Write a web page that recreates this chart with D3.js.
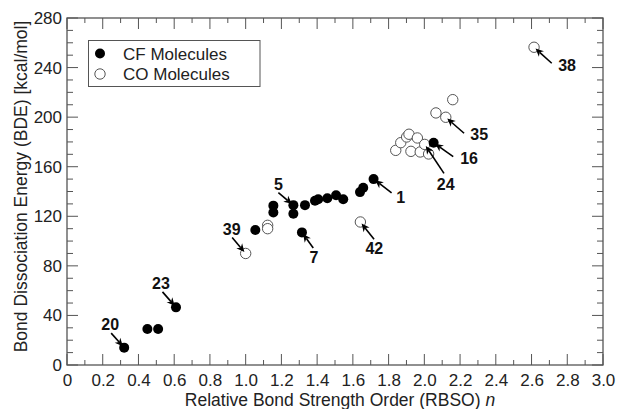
<!DOCTYPE html>
<html><head><meta charset="utf-8">
<script src="https://cdn.jsdelivr.net/npm/d3@7"></script>
<style>
html,body{margin:0;padding:0;background:#fff;}
svg{display:block;font-family:"Liberation Sans",Arial,Helvetica,sans-serif;}
</style></head>
<body>
<script>
// ---- data ----
const cfN   = [0.32, 0.45, 0.51, 0.61, 1.054, 1.155, 1.155, 1.267, 1.267, 1.315, 1.332, 1.388, 1.406, 1.457, 1.506, 1.546, 1.640, 1.658, 1.716, 2.052];
const cfBDE = [14, 29, 29, 46.5, 109, 128.6, 123, 129, 122, 107, 129, 132.6, 133.7, 134.5, 137, 133.7, 139.5, 143, 150, 179.4];
const coN   = [1.000, 1.123, 1.123, 1.642, 1.840, 1.868, 1.901, 1.914, 1.961, 1.925, 1.977, 2.002, 2.024, 2.065, 2.120, 2.159, 2.614];
const coBDE = [90, 112.7, 110, 115.4, 173.2, 179.4, 184, 186.2, 183.2, 172.4, 171.9, 178, 170.3, 203.4, 199.9, 214.1, 256.4];
const annLabels = ["20", "23", "39", "5", "7", "42", "1", "24", "16", "35", "38"];
const annN      = [0.32, 0.61, 1.000, 1.267, 1.315, 1.642, 1.716, 2.002, 2.052, 2.120, 2.614];
const annBDE    = [14, 46.5, 90, 129, 107, 115.4, 150, 178, 179.4, 199.9, 256.4];
const xTickVals = [0, 0.2, 0.4, 0.6, 0.8, 1.0, 1.2, 1.4, 1.6, 1.8, 2.0, 2.2, 2.4, 2.6, 2.8, 3.0];
const xTickLabels = ["0", "0.2", "0.4", "0.6", "0.8", "1.0", "1.2", "1.4", "1.6", "1.8", "2.0", "2.2", "2.4", "2.6", "2.8", "3.0"];
const yTickVals = [0, 40, 80, 120, 160, 200, 240, 280];
const legendLabels = ["CF Molecules", "CO Molecules"];

// ---- layout ----
const W = 617, H = 409;
const L = 67, R = 603, T = 18, B = 365;
const svg = d3.select("body").append("svg").attr("width", W).attr("height", H);
const x = d3.scaleLinear().domain([0, 3]).range([L, R]);
const y = d3.scaleLinear().domain([0, 280]).range([B, T]);
const axisCol = "#555";

// minor ticks
const xMinor = d3.range(0, 31).map(i => i / 10);
const yMinor = d3.range(0, 29).map(i => i * 10);
const isMajX = v => Math.abs(v * 5 - Math.round(v * 5)) < 1e-6;
const isMajY = v => v % 40 === 0;

const tk = svg.append("g").attr("stroke", axisCol).attr("stroke-width", 1);
xMinor.forEach(v => {
  const len = isMajX(v) ? 11 : 5;
  tk.append("line").attr("x1", x(v)).attr("x2", x(v)).attr("y1", B).attr("y2", B - len);
  tk.append("line").attr("x1", x(v)).attr("x2", x(v)).attr("y1", T).attr("y2", T + len);
});
yMinor.forEach(v => {
  const len = isMajY(v) ? 11 : 6;
  tk.append("line").attr("y1", y(v)).attr("y2", y(v)).attr("x1", L).attr("x2", L + len);
  tk.append("line").attr("y1", y(v)).attr("y2", y(v)).attr("x1", R).attr("x2", R - len);
});
svg.append("rect").attr("x", L).attr("y", T).attr("width", R - L).attr("height", B - T)
  .attr("fill", "none").attr("stroke", axisCol).attr("stroke-width", 1.3);

// axes labels via d3 axes
const xAxis = d3.axisBottom(x).tickValues(xTickVals).tickSize(0).tickPadding(9)
  .tickFormat((d, i) => xTickLabels[i]);
const gx = svg.append("g").attr("transform", `translate(0,${B})`).call(xAxis);
gx.select(".domain").remove();
gx.selectAll("text").attr("font-size", 17).attr("fill", "#222").attr("font-family", "Liberation Sans, Arial, sans-serif");

const yAxis = d3.axisLeft(y).tickValues(yTickVals).tickSize(0).tickPadding(5);
const gy = svg.append("g").attr("transform", `translate(${L},0)`).call(yAxis);
gy.select(".domain").remove();
gy.selectAll("text").attr("font-size", 17).attr("fill", "#222").attr("font-family", "Liberation Sans, Arial, sans-serif");

// axis titles
const xt = svg.append("text").attr("x", 340).attr("y", 405.5).attr("text-anchor", "middle")
  .attr("font-size", 17.5).attr("fill", "#222");
xt.append("tspan").text("Relative Bond Strength Order (RBSO) ");
xt.append("tspan").attr("font-style", "italic").text("n");
svg.append("text").attr("transform", `translate(26.5,186.5) rotate(-90)`)
  .attr("text-anchor", "middle").attr("font-size", 17.5).attr("fill", "#222")
  .text("Bond Dissociation Energy (BDE) [kcal/mol]");

// points
const cf = cfN.map((n, i) => ({ n, b: cfBDE[i] }));
const co = coN.map((n, i) => ({ n, b: coBDE[i] }));
svg.append("g").selectAll("circle").data(co).join("circle")
  .attr("cx", d => x(d.n)).attr("cy", d => y(d.b)).attr("r", 5.2)
  .attr("fill", "#fff").attr("stroke", "#555").attr("stroke-width", 1);
svg.append("g").selectAll("circle").data(cf).join("circle")
  .attr("cx", d => x(d.n)).attr("cy", d => y(d.b)).attr("r", 5)
  .attr("fill", "#000");

// annotations (offsets in px relative to target point)
const annOff = {
  "20": { lx: -14, ly: -24, tx: -13, ty: -14.5 },
  "23": { lx: -15, ly: -24, tx: -13.5, ty: -15.5 },
  "39": { lx: -14, ly: -24, tx: -13.5, ty: -16 },
  "5":  { lx: -15, ly: -21, tx: -15, ty: -12.5 },
  "7":  { lx: 12, ly: 24.5, tx: 11.3, ty: 15.6 },
  "42": { lx: 14, ly: 26, tx: 13.7, ty: 17.3 },
  "1":  { lx: 27, ly: 18, tx: 18, ty: 13.7 },
  "24": { lx: 21, ly: 39.5, tx: 19.3, ty: 29 },
  "16": { lx: 35.5, ly: 15, tx: 19.6, ty: 14 },
  "35": { lx: 33.5, ly: 17, tx: 18.3, ty: 16 },
  "38": { lx: 33, ly: 17.5, tx: 17.7, ty: 16 }
};
const ga = svg.append("g");
annLabels.forEach((lab, i) => {
  const px = x(annN[i]), py = y(annBDE[i]);
  const o = annOff[lab];
  const tx = px + o.tx, ty = py + o.ty;
  const dx = tx - px, dy = ty - py, len = Math.hypot(dx, dy);
  const ux = dx / len, uy = dy / len;
  const hx = px + ux * 2, hy = py + uy * 2; // tip
  const hl = 8, hw = 3.8;
  const bx = hx + ux * hl, by = hy + uy * hl;
  const nx = -uy, ny = ux;
  const mx = hx + ux * hl * 0.7, my = hy + uy * hl * 0.7;
  ga.append("line").attr("x1", tx).attr("y1", ty).attr("x2", mx).attr("y2", my)
    .attr("stroke", "#000").attr("stroke-width", 1.6);
  ga.append("path").attr("d", `M${hx},${hy}L${bx + nx * hw},${by + ny * hw}L${mx},${my}L${bx - nx * hw},${by - ny * hw}Z`)
    .attr("fill", "#000");
  ga.append("text").attr("x", px + o.lx).attr("y", py + o.ly + 6).attr("text-anchor", "middle")
    .attr("font-size", 16).attr("font-weight", "bold").attr("fill", "#111").text(lab);
});

// legend
const lg = svg.append("g");
lg.append("rect").attr("x", 88.5).attr("y", 40.5).attr("width", 171.5).attr("height", 46)
  .attr("fill", "#fff").attr("stroke", "#555").attr("stroke-width", 1);
lg.append("circle").attr("cx", 100).attr("cy", 53.5).attr("r", 5).attr("fill", "#000");
lg.append("circle").attr("cx", 100).attr("cy", 74).attr("r", 5.2).attr("fill", "#fff").attr("stroke", "#555");
legendLabels.forEach((t, i) => {
  lg.append("text").attr("x", 123).attr("y", 59.5 + i * 20.5).attr("font-size", 17).attr("fill", "#222").text(t);
});
</script>
</body></html>
